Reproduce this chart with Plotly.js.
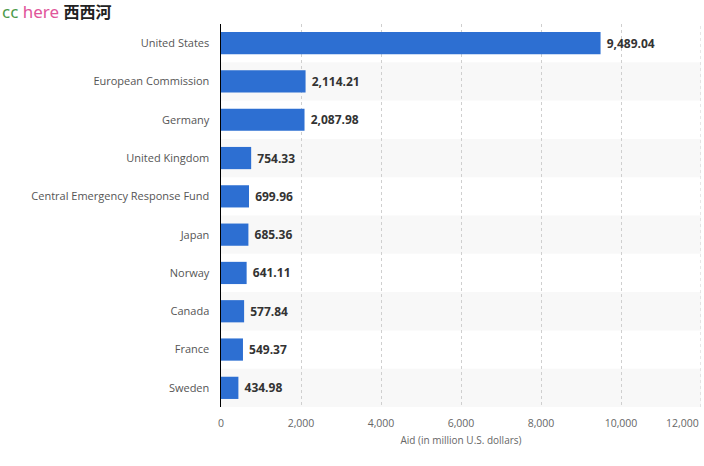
<!DOCTYPE html>
<html><head><meta charset="utf-8">
<script src="https://cdn.plot.ly/plotly-3.0.1.min.js"></script>
<style>html,body{margin:0;padding:0;background:#fff;}#chart{width:704px;height:466px;}</style>
</head><body><div id="chart"></div>
<script>
const categories = ["United States","European Commission","Germany","United Kingdom","Central Emergency Response Fund","Japan","Norway","Canada","France","Sweden"];
const aidValues = [9489.04,2114.21,2087.98,754.33,699.96,685.36,641.11,577.84,549.37,434.98];
const xTickVals = [0,2000,4000,6000,8000,10000];
const xTickText = ["0","2,000","4,000","6,000","8,000","10,000"];

const FONT = "Open Sans, Noto Sans, sans-serif";
const shapes = [];
categories.forEach((c,i)=>{
  if (i % 2 === 1) {
    shapes.push({type:'rect', xref:'paper', yref:'y', x0:0, x1:1, y0:i-0.5, y1:i+0.5,
      fillcolor:'#f8f8f8', line:{width:0}, layer:'below'});
  }
});

const trace = {
  type:'bar', orientation:'h', y:categories, x:aidValues,
  marker:{color:'#2d6fd2'},
  texttemplate:'\u00a0%{x:,.2f}', textposition:'outside', cliponaxis:false,
  textfont:{family:FONT, size:12, color:'#333', weight:'bold'},
  hoverinfo:'skip'
};

const layout = {
  width:704, height:466,
  margin:{l:221, r:3, t:24, b:59},
  paper_bgcolor:'#fff', plot_bgcolor:'rgba(0,0,0,0)',
  bargap:0.42, showlegend:false,
  font:{family:FONT, color:'#555', size:11},
  xaxis:{range:[0,12000], tickvals:xTickVals, ticktext:xTickText, showgrid:true,
    gridcolor:'#cfcfcf', griddash:'dot', gridwidth:1, zeroline:false, showline:false,
    ticks:'', tickfont:{size:10.5, color:'#666'}, ticklabelstandoff:8,
    title:{text:'Aid (in million U.S. dollars)', font:{size:10, color:'#666'}, standoff:8}},
  yaxis:{autorange:'reversed', showline:true, linecolor:'#000', linewidth:1.5,
    ticks:'', tickfont:{size:11, color:'#555'}, ticklabelstandoff:8, showgrid:false, zeroline:false},
  shapes: shapes.concat([{type:'line', xref:'x', yref:'paper', x0:12000, x1:12000, y0:0, y1:1,
    line:{color:'#cfcfcf', width:1, dash:'dot'}}]),
  annotations:[
    {xref:'paper', yref:'paper', x:1, y:0, yshift:-16, xanchor:'right', yanchor:'middle',
      text:'12,000', showarrow:false, font:{size:10.5, color:'#666'}},
    {xref:'paper', yref:'paper', x:-221/480, y:1, yshift:13, xanchor:'left', yanchor:'middle', showarrow:false,
      text:'<span style="color:#4a9a4a">cc</span> <span style="color:#e0559a">here</span> <span style="color:#222;font-weight:bold;font-size:16px">西西河</span>',
      font:{family:"Noto Sans, Noto Sans CJK SC", size:17}}
  ]
};

Plotly.newPlot('chart', [trace], layout, {displayModeBar:false, staticPlot:true});
</script></body></html>
